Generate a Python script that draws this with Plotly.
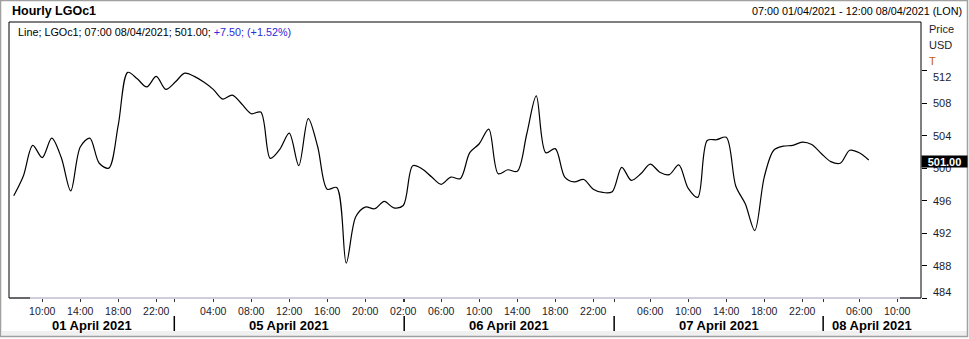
import plotly.graph_objects as go

# ---------------- data ----------------
values = [
    496.6, 499.0, 502.8, 501.3, 503.7, 501.3, 497.2, 502.6, 503.7, 500.6,
    500.0, 505.3, 511.8, 511.0, 510.0, 511.3, 509.7, 510.6, 511.7, 511.3,
    510.6, 509.7, 508.5, 509.0, 507.9, 506.7, 506.9, 501.2, 502.3, 504.3,
    500.3, 506.1, 502.6, 497.4, 497.6, 488.3, 494.0, 495.2, 495.0, 495.9,
    495.1, 495.4, 500.3, 499.9, 498.9, 498.0, 498.9, 498.7, 501.9, 503.0,
    504.8, 499.3, 499.8, 499.6, 504.2, 508.9, 501.9, 502.4, 498.9, 498.3,
    498.6, 497.4, 497.0, 497.1, 500.1, 498.5, 499.3, 500.5, 499.5, 499.2,
    500.4, 497.5, 496.4, 503.4, 503.5, 503.8, 497.8, 495.6, 492.3, 498.9,
    502.2, 502.7, 502.8, 503.2, 502.9, 501.8, 500.8, 500.6, 502.2, 501.9,
    501.0,
]
hour_index = list(range(len(values)))

hour_ticks = [3, 7, 11, 15, 21, 25, 29, 33, 37, 41, 45, 49, 53, 57, 61,
              67, 71, 75, 79, 83, 89, 93]
hour_labels = ["10:00", "14:00", "18:00", "22:00", "04:00", "08:00", "12:00",
               "16:00", "20:00", "02:00", "06:00", "10:00", "14:00", "18:00",
               "22:00", "06:00", "10:00", "14:00", "18:00", "22:00", "06:00",
               "10:00"]
day_bounds = [16.9, 41.1, 63.2, 85.2]
day_labels = ["01 April 2021", "05 April 2021", "06 April 2021",
              "07 April 2021", "08 April 2021"]
y_ticks = [484, 488, 492, 496, 500, 504, 508, 512]
x_range = [-0.5, 95.5]
y_range = [484, 518]

title_text = "Hourly LGOc1"
period_text = "07:00 01/04/2021 - 12:00 08/04/2021 (LON)"
legend_black = "Line; LGOc1; 07:00 08/04/2021; 501.00; "
legend_blue = "+7.50; (+1.52%)"
unit_labels = ["Price", "USD", "T"]
last_label = "501.00"

# ---------------- layout helpers ----------------
W, H = 969, 339
L, R, T, B = 9, 48, 22, 41
PW, PH = W - L - R, H - T - B
FONT = "Liberation Sans, Arial, sans-serif"
TXT = "#1c1c2c"


def px_x(px):
    return (px - L) / PW


def px_y(py):
    return (H - B - py) / PH


fig = go.Figure()
fig.add_trace(go.Scatter(
    x=hour_index, y=values, mode="lines",
    line=dict(color="black", width=1.2, shape="spline", smoothing=0.9),
    hoverinfo="skip", showlegend=False,
))

annotations = []
shapes = []

# header
annotations.append(dict(text="<b>%s</b>" % title_text, xref="paper", yref="paper",
                        x=px_x(10), y=px_y(11), xanchor="left", yanchor="middle",
                        showarrow=False, font=dict(family=FONT, size=12.5, color="black")))
annotations.append(dict(text=period_text, xref="paper", yref="paper",
                        x=px_x(964), y=px_y(11), xanchor="right", yanchor="middle",
                        showarrow=False, font=dict(family=FONT, size=10.8, color="black")))
annotations.append(dict(text=legend_black + '<span style="color:#2a2ad8">' + legend_blue + "</span>",
                        xref="paper", yref="paper",
                        x=px_x(16), y=px_y(32), xanchor="left", yanchor="middle",
                        showarrow=False, font=dict(family=FONT, size=10.8, color="black")))

# units
unit_colors = [TXT, TXT, "#c0600a"]
for i, (u, c) in enumerate(zip(unit_labels, unit_colors)):
    annotations.append(dict(text=u, xref="paper", yref="paper",
                            x=px_x(927), y=px_y(29 + 16 * i), xanchor="left", yanchor="middle",
                            showarrow=False, font=dict(family=FONT, size=11, color=c)))

# y tick labels
for v in y_ticks:
    shift = 0
    if v == y_ticks[-1]:
        shift = -6
    if v == y_ticks[0]:
        shift = 6
    annotations.append(dict(text=str(v), xref="paper", yref="y",
                            x=px_x(931), y=v, yshift=shift, xanchor="left", yanchor="middle",
                            showarrow=False, font=dict(family=FONT, size=11, color=TXT)))

# last value box
annotations.append(dict(text="<b>%s</b>" % last_label, xref="paper", yref="y",
                        x=px_x(921), y=values[-1], yshift=-1, xanchor="left", yanchor="middle",
                        showarrow=False, bgcolor="black", width=45, height=11, borderpad=0,
                        align="center", valign="middle",
                        font=dict(family=FONT, size=11, color="white")))

# day labels and separators
edges = [x_range[0]] + day_bounds + [x_range[1]]
for i, lab in enumerate(day_labels):
    c = (edges[i] + edges[i + 1]) / 2
    annotations.append(dict(text="<b>%s</b>" % lab, xref="x", yref="paper",
                            x=c, y=px_y(325), xanchor="center", yanchor="middle",
                            showarrow=False, font=dict(family=FONT, size=13, color="black")))
for b in day_bounds:
    shapes.append(dict(type="line", xref="x", yref="paper", x0=b, x1=b,
                       y0=px_y(316), y1=px_y(331), line=dict(color="black", width=1.5)))

# plot borders
shapes += [
    dict(type="line", xref="paper", yref="paper", x0=0, x1=1, y0=1, y1=1,
         line=dict(color="black", width=1)),
    dict(type="line", xref="paper", yref="paper", x0=0, x1=0, y0=0, y1=1,
         line=dict(color="black", width=1)),
    dict(type="line", xref="paper", yref="paper", x0=1, x1=1, y0=0, y1=1,
         line=dict(color="black", width=1)),
    dict(type="line", xref="paper", yref="paper", x0=0, x1=1, y0=0, y1=0,
         line=dict(color="#9c9cb8", width=1)),
    dict(type="line", xref="paper", yref="paper", x0=0, x1=px_x(30), y0=0, y1=0,
         line=dict(color="black", width=1)),
    dict(type="line", xref="paper", yref="paper", x0=px_x(900), x1=1, y0=0, y1=0,
         line=dict(color="black", width=1)),
]
# bottom band and outer frame
shapes.append(dict(type="rect", xref="paper", yref="paper", x0=px_x(2), x1=px_x(967),
                   y0=px_y(336), y1=px_y(331), fillcolor="#f0f0f0", line=dict(width=0),
                   layer="below"))
shapes.append(dict(type="rect", xref="paper", yref="paper", x0=px_x(0.5), x1=px_x(967.5),
                   y0=px_y(336.5), y1=px_y(0.5), fillcolor="rgba(0,0,0,0)",
                   line=dict(color="#a0a0a0", width=1.5)))

fig.update_layout(
    width=W, height=H,
    margin=dict(l=L, r=R, t=T, b=B, pad=0),
    paper_bgcolor="white", plot_bgcolor="white",
    showlegend=False,
    annotations=annotations, shapes=shapes,
    xaxis=dict(range=x_range, showgrid=False, zeroline=False, showline=False,
               tickmode="array", tickvals=hour_ticks + day_bounds,
               ticktext=hour_labels + [""] * len(day_bounds),
               ticks="outside", ticklen=3, tickwidth=1, tickcolor="#333333",
               tickfont=dict(family=FONT, size=10.5, color=TXT), fixedrange=True),
    yaxis=dict(range=y_range, side="right", showgrid=False, zeroline=False,
               showline=False, tickmode="array", tickvals=y_ticks,
               showticklabels=False, ticks="outside", ticklen=5, tickwidth=1,
               tickcolor="black", fixedrange=True),
)

fig.write_html("out.html")
